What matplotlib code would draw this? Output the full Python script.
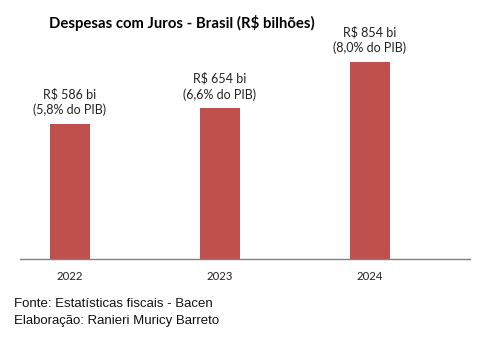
import numpy as np
import matplotlib
matplotlib.use("Agg")
import matplotlib.pyplot as plt

# dados
anos = ["2022", "2023", "2024"]
despesas = [586, 654, 854]
pct_pib = ["5,8%", "6,6%", "8,0%"]

cor_barra = "#C0504D"

fig = plt.figure(figsize=(4.85, 3.37), dpi=100)
ax = fig.add_axes([20 / 485, (337 - 259) / 337, 450 / 485, 219 / 337])

x = np.arange(len(anos))
ax.bar(x, despesas, width=0.267, color=cor_barra, zorder=2)

# eixo começa um pouco antes da primeira barra e sobra espaço à direita
ax.set_xlim(-1 / 3, len(anos) - 1 / 3)
ax.set_ylim(0, 950)

for i, (v, p) in enumerate(zip(despesas, pct_pib)):
    ax.annotate(f"R$ {v} bi\n({p} do PIB)", (x[i], v), xytext=(0, 5.5),
                textcoords="offset points", ha="center", va="bottom",
                fontsize=9, family="Lato", color="#222222", linespacing=1.33)

ax.set_xticks(x)
ax.set_xticklabels(anos, family="Lato", fontsize=8.2, color="#222222")
ax.tick_params(axis="x", length=0, pad=9)
ax.set_yticks([])
for s in ["top", "left", "right"]:
    ax.spines[s].set_visible(False)
ax.spines["bottom"].set_color("#808080")
ax.spines["bottom"].set_linewidth(1.0)

fig.text(182 / 485, 1 - 23 / 337, "Despesas com Juros - Brasil (R$ bilhões)",
         ha="center", va="center", fontsize=10.7, fontweight="bold", family="Lato")

fig.text(14 / 485, 1 - 304 / 337, "Fonte: Estatísticas fiscais - Bacen",
         ha="left", va="center", fontsize=9.5, family="Liberation Sans", color="#111111")
fig.text(14 / 485, 1 - 321 / 337, "Elaboração: Ranieri Muricy Barreto",
         ha="left", va="center", fontsize=9.5, family="Liberation Sans", color="#111111")

fig.savefig("out.png", dpi=100)
